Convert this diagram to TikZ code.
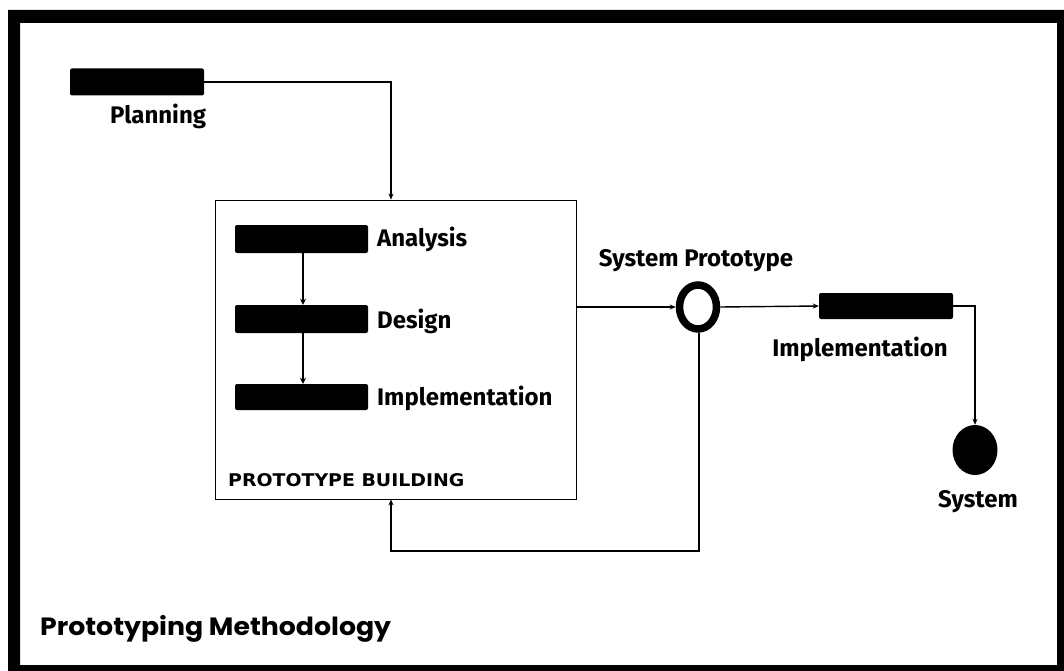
\documentclass[tikz,border=0pt]{standalone}
\usepackage{fontspec}
\setmainfont{Fira Sans}
\newfontfamily\titlefont{Poppins}
\newfontfamily\capsfont{DejaVu Sans}
\usetikzlibrary{arrows.meta,shapes.geometric}
\begin{document}
\begin{tikzpicture}[x=1pt,y=-1pt,
  bar/.style={fill=black,rounded corners=2pt,minimum width=134pt,minimum height=27pt,inner sep=0pt},
  lbl/.style={font=\fontsize{24}{24}\selectfont\bfseries,inner sep=0pt},
  conn/.style={line width=1.4pt,-{Stealth[length=6pt,width=5pt]}},
  thickconn/.style={line width=2.6pt,-{Stealth[length=6pt,width=6pt]}},
  plain/.style={line width=1.4pt}]
\useasboundingbox (0,0) rectangle (1064,671);
\fill[white] (0,0) rectangle (1064,671);
% frame
\fill[black,even odd rule] (8,10) rectangle (1064,671) (20,23) rectangle (1057,665);

% planning
\node[bar] (plan) at (137,82) {};
\node[lbl,anchor=base west] (tplan) at (110,124) {Planning};

% prototype building box
\node[draw,line width=0.8pt,minimum width=361pt,minimum height=299pt,inner sep=0pt] (box) at (395.5,349.5) {};
\node[bar,minimum width=133pt,minimum height=28pt] (ana) at (301.5,239) {};
\node[bar,minimum width=133pt,minimum height=28pt] (des) at (301.5,319) {};
\node[bar,minimum width=133pt,minimum height=26pt] (imp) at (301.5,397) {};
\node[lbl,anchor=base west] (tana) at (377,246) {Analysis};
\node[lbl,anchor=base west] (tdes) at (377,328) {Design};
\node[lbl,anchor=base west] (timp) at (377,405) {Implementation};
\node[anchor=base west,inner sep=0pt,font=\capsfont\bfseries\fontsize{17.5}{17.5}\selectfont] (tpb) at (228,486) {\scalebox{1.08}[1]{PROTOTYPE BUILDING}};

% system prototype ring
\node[draw,ellipse,line width=7.5pt,minimum width=37pt,minimum height=44pt,inner sep=0pt] (ring) at (698,307) {};
\node[lbl,anchor=base] (tring) at (696,266) {System Prototype};

% implementation bar (right)
\node[bar,minimum height=26pt] (imp2) at (886,306) {};
\node[lbl,anchor=base] (timp2) at (860,356) {Implementation};

% system
\node[fill=black,ellipse,minimum width=45pt,minimum height=50pt,inner sep=0pt] (sys) at (975,450) {};
\node[lbl,anchor=base] (tsys) at (978,507) {System};

% title
\node[anchor=base west,inner sep=0pt,font=\titlefont\bfseries\fontsize{25}{25}\selectfont] (title) at (40,635) {\scalebox{1.07}[1]{Prototyping Methodology}};

% connectors
\draw[conn] (plan.east) -| ([xshift=-4.5pt]box.north);
\draw[thickconn] ([xshift=1.5pt]ana.south) -- ([xshift=1.5pt]des.north);
\draw[thickconn] ([xshift=1.5pt]des.south) -- ([xshift=1.5pt]imp.north);
\draw[conn] (box.east |- ring.west) -- (ring.west);
\draw[conn] (ring.east) -- (imp2.west);
\draw[conn] (imp2.east) -| (sys.north);
\coordinate (fb) at (699,551);
\draw[line width=2pt,-{Stealth[length=6pt,width=5pt]}] (ring.south -| fb) -- (fb) -| ([xshift=-4.5pt]box.south);
\end{tikzpicture}
\end{document}
